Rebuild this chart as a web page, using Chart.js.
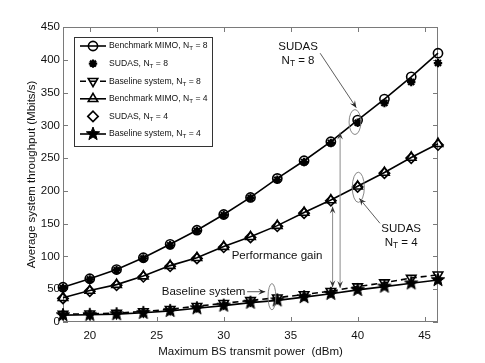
<!DOCTYPE html>
<html><head><meta charset="utf-8">
<script src="https://cdn.jsdelivr.net/npm/chart.js@4.4.1/dist/chart.umd.min.js"></script>
<style>html,body{margin:0;padding:0;background:#fff}#wrap{width:485px;height:363px}</style>
</head><body><div id="wrap"><canvas id="c" width="485" height="363"></canvas></div>
<script>
// ---- data ----
const powerDbm   = [18, 20, 22, 24, 26, 28, 30, 32, 34, 36, 38, 40, 42, 44, 46];
const benchmark8 = [53, 66, 80, 98, 118.5, 140, 164, 190, 219, 246, 275, 308, 340, 374, 410];
const sudas8     = [52, 65, 79, 97, 117, 139, 163, 189, 217, 244, 273, 304, 334, 366, 395];
const baseline8  = [12, 12.5, 13.5, 16, 19.5, 24, 28.5, 33, 37, 42, 47, 54, 60, 67, 72];
const benchmark4 = [37, 48, 57, 70, 86, 98, 115, 130, 147, 167, 186, 207, 228, 251, 272];
const sudas4     = [36, 47, 56, 69, 85, 97, 114, 129, 146, 166, 185, 206, 227, 250, 270];
const baseline4  = [10.5, 11, 12, 14, 17, 21, 25, 29.5, 33, 38, 43, 49, 54, 59, 64];
const xTicks = [20, 25, 30, 35, 40, 45];
const yTicks = [0, 50, 100, 150, 200, 250, 300, 350, 400, 450];
const seriesLabels = ['Benchmark MIMO, N_T = 8', 'SUDAS, N_T = 8', 'Baseline system, N_T = 8',
                      'Benchmark MIMO, N_T = 4', 'SUDAS, N_T = 4', 'Baseline system, N_T = 4'];
const xTitle = 'Maximum BS transmit power  (dBm)';
const yTitle = 'Average system throughput (Mbits/s)';

const FONT = '"Liberation Sans", Arial, Helvetica, sans-serif';
const FRAME = '#7a7a7a';

function makePentagram(R) {
  const s = Math.ceil(R * 2 + 4);
  const c = document.createElement('canvas'); c.width = s; c.height = s;
  const g = c.getContext('2d'); g.translate(s / 2, s / 2);
  g.beginPath();
  for (let i = 0; i < 10; i++) {
    const r = i % 2 ? R * 0.42 : R; const a = -Math.PI / 2 + i * Math.PI / 5;
    g.lineTo(r * Math.cos(a), r * Math.sin(a));
  }
  g.closePath(); g.fillStyle = '#000'; g.fill(); g.lineWidth = 1; g.strokeStyle = '#000'; g.stroke();
  return c;
}
const pentagram = makePentagram(7);
const pts = arr => arr.map((v, i) => ({x: powerDbm[i], y: v}));
const clear = 'rgba(0,0,0,0)';

const datasets = [
  {label: seriesLabels[0], data: pts(benchmark8), borderColor: '#000', borderWidth: 1.6, showLine: true,
   pointStyle: 'circle', pointRadius: 4.6, pointBorderWidth: 1.6, pointBorderColor: '#000', pointBackgroundColor: clear},
  {label: seriesLabels[1], data: pts(sudas8), borderColor: '#000', showLine: false,
   pointStyle: 'star', pointRadius: 4.2, pointBorderWidth: 2.2, pointBorderColor: '#000', pointBackgroundColor: '#000'},
  {label: seriesLabels[2], data: pts(baseline8), borderColor: '#000', borderWidth: 1.6, borderDash: [6, 4], showLine: true,
   pointStyle: 'triangle', pointRotation: 180, pointRadius: 5.5, pointBorderWidth: 1.6, pointBorderColor: '#000', pointBackgroundColor: clear},
  {label: seriesLabels[3], data: pts(benchmark4), borderColor: '#000', borderWidth: 1.6, showLine: true,
   pointStyle: 'triangle', pointRadius: 5.5, pointBorderWidth: 1.6, pointBorderColor: '#000', pointBackgroundColor: clear},
  {label: seriesLabels[4], data: pts(sudas4), borderColor: '#000', showLine: false,
   pointStyle: 'rectRot', pointRadius: 5.2, pointBorderWidth: 1.6, pointBorderColor: '#000', pointBackgroundColor: clear},
  {label: seriesLabels[5], data: pts(baseline4), borderColor: '#000', borderWidth: 1.6, showLine: true,
   pointStyle: pentagram, pointRadius: 6, pointBorderWidth: 1, pointBorderColor: '#000', pointBackgroundColor: '#000'}
];
datasets.forEach(d => { d.tension = 0; d.fill = false; d.clip = false; d.pointHoverRadius = d.pointRadius; });

// text with "_T" subscript
function drawRich(ctx, text, x, y, size, align) {
  const parts = []; const re = /_(\w)/g; let last = 0, m;
  while ((m = re.exec(text))) { parts.push({t: text.slice(last, m.index), sub: false}); parts.push({t: m[1], sub: true}); last = m.index + 2; }
  parts.push({t: text.slice(last), sub: false});
  const subSize = size * 0.72;
  let w = 0;
  parts.forEach(p => { ctx.font = (p.sub ? subSize : size) + 'px ' + FONT; p.w = ctx.measureText(p.t).width; w += p.w; });
  let cx = align === 'center' ? x - w / 2 : (align === 'right' ? x - w : x);
  ctx.textAlign = 'left'; ctx.textBaseline = 'middle';
  parts.forEach(p => { ctx.font = (p.sub ? subSize : size) + 'px ' + FONT; ctx.fillText(p.t, cx, p.sub ? y + size * 0.32 : y); cx += p.w; });
}

function arrowHead(ctx, x1, y1, x2, y2, len, wid) {
  const a = Math.atan2(y2 - y1, x2 - x1);
  ctx.beginPath();
  ctx.moveTo(x2, y2);
  ctx.lineTo(x2 - len * Math.cos(a) + wid * Math.sin(a), y2 - len * Math.sin(a) - wid * Math.cos(a));
  ctx.lineTo(x2 - len * 0.6 * Math.cos(a), y2 - len * 0.6 * Math.sin(a));
  ctx.lineTo(x2 - len * Math.cos(a) - wid * Math.sin(a), y2 - len * Math.sin(a) + wid * Math.cos(a));
  ctx.closePath(); ctx.fill();
}

const framePlugin = {
  id: 'frame',
  beforeDatasetsDraw(chart) {
    const {ctx, chartArea: a, scales: {x, y}} = chart;
    ctx.save();
    ctx.strokeStyle = FRAME; ctx.lineWidth = 1;
    ctx.strokeRect(a.left + 0.5, a.top + 0.5, a.right - a.left - 1, a.bottom - a.top - 1);
    ctx.beginPath();
    x.ticks.forEach(t => { const px = Math.round(x.getPixelForValue(t.value)) + 0.5;
      ctx.moveTo(px, a.bottom); ctx.lineTo(px, a.bottom - 5); ctx.moveTo(px, a.top); ctx.lineTo(px, a.top + 5); });
    y.ticks.forEach(t => { const py = Math.round(y.getPixelForValue(t.value)) + 0.5;
      ctx.moveTo(a.left, py); ctx.lineTo(a.left + 5, py); ctx.moveTo(a.right, py); ctx.lineTo(a.right - 5, py); });
    ctx.stroke();
    ctx.restore();
  }
};

const annoPlugin = {
  id: 'anno',
  afterDatasetsDraw(chart) {
    const {ctx, scales: {x, y}} = chart;
    const X = v => x.getPixelForValue(v), Y = v => y.getPixelForValue(v);
    ctx.save();
    ctx.fillStyle = '#111';
    drawRich(ctx, 'SUDAS', X(35.55), Y(419.5), 11.5, 'center');
    drawRich(ctx, 'N_T = 8', X(35.55), Y(399), 11.5, 'center');
    drawRich(ctx, 'SUDAS', X(43.25), Y(142), 11.5, 'center');
    drawRich(ctx, 'N_T = 4', X(43.25), Y(121.5), 11.5, 'center');
    drawRich(ctx, 'Performance gain', X(33.98), Y(100.5), 11.5, 'center');
    drawRich(ctx, 'Baseline system', X(25.37), Y(46.2), 11.5, 'left');
    // pointer arrows
    ctx.strokeStyle = '#333'; ctx.fillStyle = '#222'; ctx.lineWidth = 0.8;
    const arrows = [[37.2, 410, 39.9, 327], [41.67, 150.5, 40.13, 188.5], [31.75, 46.2, 33.1, 46.2]];
    arrows.forEach(([a1, b1, a2, b2]) => {
      ctx.beginPath(); ctx.moveTo(X(a1), Y(b1)); ctx.lineTo(X(a2), Y(b2)); ctx.stroke();
      arrowHead(ctx, X(a1), Y(b1), X(a2), Y(b2), 7, 3);
    });
    // performance gain double arrows
    ctx.strokeStyle = '#8c8c8c'; ctx.fillStyle = '#333'; ctx.lineWidth = 1;
    [[38.13, 176, 53], [38.69, 289, 52]].forEach(([a, top, bot]) => {
      ctx.beginPath(); ctx.moveTo(X(a), Y(top)); ctx.lineTo(X(a), Y(bot)); ctx.stroke();
      arrowHead(ctx, X(a), Y(bot), X(a), Y(top), 7, 2.8);
      arrowHead(ctx, X(a), Y(top), X(a), Y(bot), 7, 2.8);
    });
    // ellipses
    ctx.strokeStyle = '#7a7a7a'; ctx.lineWidth = 0.9;
    [[39.8, 305, 0.44, 19], [40.05, 205.5, 0.45, 23], [33.6, 38.6, 0.29, 20]].forEach(([cx, cy, rx, ry]) => {
      ctx.beginPath();
      ctx.ellipse(X(cx), Y(cy), Math.abs(X(cx + rx) - X(cx)), Math.abs(Y(cy + ry) - Y(cy)), 0, 0, Math.PI * 2);
      ctx.stroke();
    });
    ctx.restore();
  },
  afterDraw(chart) {
    // legend box
    const {ctx, chartArea: a} = chart;
    const L = a.left + 11, T = a.top + 10, W = 138, H = 109;
    ctx.save();
    ctx.fillStyle = '#fff'; ctx.fillRect(L, T, W, H);
    ctx.strokeStyle = '#333'; ctx.lineWidth = 1; ctx.strokeRect(L + 0.5, T + 0.5, W, H);
    chart.data.datasets.forEach((d, i) => {
      const cy = T + 9 + i * 17.6;
      if (d.showLine) {
        ctx.strokeStyle = '#000'; ctx.lineWidth = 1.6; ctx.setLineDash(d.borderDash || []);
        ctx.beginPath(); ctx.moveTo(L + 6, cy); ctx.lineTo(L + 32, cy); ctx.stroke(); ctx.setLineDash([]);
      }
      ctx.strokeStyle = '#000'; ctx.fillStyle = d.pointBackgroundColor; ctx.lineWidth = d.pointBorderWidth;
      Chart.helpers.drawPoint(ctx, {pointStyle: d.pointStyle, rotation: d.pointRotation || 0, radius: d.pointRadius, borderWidth: d.pointBorderWidth}, L + 19, cy);
      ctx.fillStyle = '#111';
      drawRich(ctx, d.label, L + 35, cy, 8.6, 'left');
    });
    ctx.restore();
  }
};

new Chart(document.getElementById('c'), {
  type: 'line',
  data: {datasets},
  options: {
    responsive: false, animation: false, devicePixelRatio: 1,
    layout: {padding: {top: 27, right: 47, left: 0, bottom: 0}},
    plugins: {legend: {display: false}, tooltip: {enabled: false}},
    scales: {
      x: {type: 'linear', min: 18, max: 46,
          afterBuildTicks: s => { s.ticks = xTicks.map(v => ({value: v})); },
          afterFit: s => { s.height = 41; },
          grid: {display: false, drawTicks: false}, border: {display: false},
          ticks: {color: '#111', padding: 7, font: {family: FONT, size: 11.5}},
          title: {display: true, text: xTitle, color: '#111', font: {family: FONT, size: 11.5}, padding: {top: 0, bottom: 4}}},
      y: {type: 'linear', min: 0, max: 450,
          afterBuildTicks: s => { s.ticks = yTicks.map(v => ({value: v})); },
          afterFit: s => { s.width = 63; },
          grid: {display: false, drawTicks: false}, border: {display: false},
          ticks: {color: '#111', padding: 3, font: {family: FONT, size: 11.5}},
          title: {display: true, text: yTitle, color: '#111', font: {family: FONT, size: 11.5}, padding: {top: 25, bottom: 0}}}
    }
  },
  plugins: [framePlugin, annoPlugin]
});
</script></body></html>
